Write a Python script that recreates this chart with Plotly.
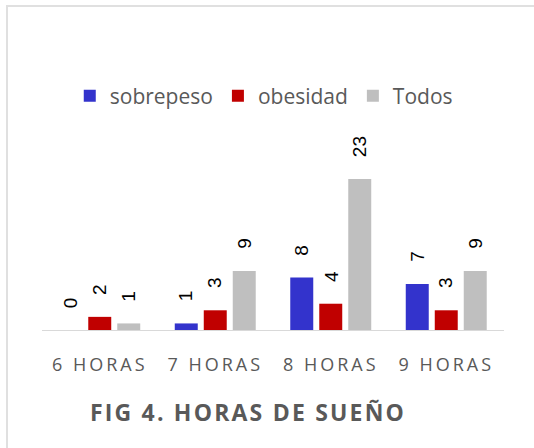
import plotly.graph_objects as go

# Data
categorias = ["6 HORAS", "7 HORAS", "8 HORAS", "9 HORAS"]
sobrepeso = [0, 1, 8, 7]
obesidad = [2, 3, 4, 3]
todos = [1, 9, 23, 9]

series = [
    ("sobrepeso", sobrepeso, "#3333CC"),
    ("obesidad", obesidad, "#C00000"),
    ("Todos", todos, "#BFBFBF"),
]

fig = go.Figure()
for name, vals, color in series:
    fig.add_trace(go.Bar(
        x=categorias, y=vals, name=name,
        marker=dict(color=color, line=dict(width=0)),
    ))

# rotated value labels above each bar
offsets = [-29, 0, 29]
for (name, vals, color), dx in zip(series, offsets):
    for cat, v in zip(categorias, vals):
        fig.add_annotation(
            x=cat, y=v, text=str(v), showarrow=False,
            textangle=-90, xshift=dx, yshift=20, yanchor="bottom",
            font=dict(family="Liberation Sans, Arial", size=19, color="#000000"),
        )

# chart frame
fig.add_shape(type="rect", xref="paper", yref="paper",
              x0=-0.0758, x1=1.09, y0=-0.7, y1=1.8,
              line=dict(color="#E0E0E0", width=2), layer="below")

spaced = ['<span style="letter-spacing:3px">%s</span>' % c for c in categorias]

fig.update_layout(
    width=534, height=448,
    margin=dict(l=42, r=30, t=150, b=118),
    paper_bgcolor="white", plot_bgcolor="white",
    barmode="group", bargap=0.247, bargroupgap=0.207,
    font=dict(family="Open Sans, Noto Sans", color="#595959"),
    showlegend=True,
    legend=dict(orientation="h", xref="paper", yref="container",
                x=0.48, xanchor="center", y=1 - 96 / 448, yanchor="middle",
                font=dict(size=21, color="#595959"), itemwidth=30,
                traceorder="normal", tracegroupgap=0),
    title=dict(text='<span style="letter-spacing:2.2px"><b>FIG 4. HORAS DE SUEÑO</b></span>',
               xref="container", yref="container",
               x=248 / 534, xanchor="center", y=1 - 413 / 448, yanchor="middle",
               font=dict(family="Open Sans, Noto Sans", size=23, color="#595959")),
    xaxis=dict(tickmode="array", tickvals=categorias, ticktext=spaced,
               showline=True, linecolor="#D9D9D9", linewidth=1,
               ticks="", tickfont=dict(size=18, color="#595959"),
               ticklabelstandoff=18,
               showgrid=False, range=[-0.5, 3.5]),
    yaxis=dict(range=[0, 27.4], visible=False, showgrid=False, zeroline=False),
)

fig.write_html("out.html", config={"displayModeBar": False},
               post_script="document.body.style.margin='0';")
